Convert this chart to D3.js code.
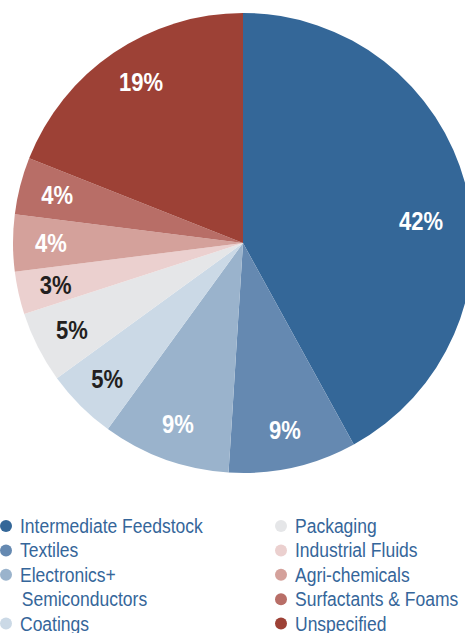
<!DOCTYPE html>
<html>
<head>
<meta charset="utf-8">
<script src="https://cdn.jsdelivr.net/npm/d3@7"></script>
<style>
  body { margin: 0; background: #fff; }
  svg { display: block; }
</style>
</head>
<body>
<div id="chart"></div>
<script>
/* data */
var categories = ["Intermediate Feedstock", "Textiles", "Electronics+\nSemiconductors", "Coatings",
  "Packaging", "Industrial Fluids", "Agri-chemicals", "Surfactants & Foams", "Unspecified"];
var shares = [42, 9, 9, 5, 5, 3, 4, 4, 19];
var colors = ["#346798", "#6589b1", "#9ab3cc", "#cbd9e6", "#e5e6e8", "#ebd0cf", "#d4a19b", "#b86e67", "#9d4136"];
var labelColors = ["#fff", "#fff", "#fff", "#231f20", "#231f20", "#231f20", "#fff", "#fff", "#fff"];

var width = 465, height = 633;
var cx = 243, cy = 243, radius = 230;
var fontFam = "'Liberation Sans Narrow', 'Liberation Sans', Arial, sans-serif";

var svg = d3.select("#chart").append("svg")
  .attr("width", width)
  .attr("height", height);

var data = categories.map(function(c, i) {
  return { name: c, value: shares[i], color: colors[i], text: labelColors[i] };
});

var pie = d3.pie().sort(null).value(function(d) { return d.value; });
var arc = d3.arc().innerRadius(0).outerRadius(radius);
var labelArc = d3.arc().innerRadius(192).outerRadius(192);

var g = svg.append("g").attr("transform", "translate(" + cx + "," + cy + ")");
var arcs = pie(data);

g.selectAll("path")
  .data(arcs)
  .enter().append("path")
  .attr("d", arc)
  .attr("fill", function(d) { return d.data.color; });

g.selectAll("text.pct")
  .data(arcs)
  .enter().append("text")
  .attr("class", "pct")
  .attr("transform", function(d) {
    var p = labelArc.centroid(d);
    // biggest slice label sits lower in the original
    if (d.index === 0) p = [p[0] - 8, p[1] + 26];
    if (d.index === 8) p = [p[0] + 6, p[1] - 2];
    return "translate(" + p[0] + "," + p[1] + ") scale(0.88,1)";
  })
  .attr("text-anchor", "middle")
  .attr("dy", "0.36em")
  .style("font-family", fontFam)
  .style("font-weight", "bold")
  .style("font-size", "25px")
  .style("fill", function(d) { return d.data.text; })
  .text(function(d) { return d.data.value + "%"; });

/* legend */
var legend = svg.append("g");
var rowH = 24.4, legendTop = 526;
var lineIdx = [0, 0];
data.forEach(function(d, i) {
  var col = i < 4 ? 0 : 1;
  var x = col === 0 ? 6 : 281;
  var y = legendTop + lineIdx[col] * rowH;
  var lines = d.name.split("\n");
  legend.append("circle")
    .attr("cx", x).attr("cy", y).attr("r", 6)
    .attr("fill", d.color);
  var t = legend.append("text")
    .attr("transform", "translate(" + (x + 14) + "," + y + ") scale(0.875,1)")
    .style("font-family", fontFam)
    .style("font-size", "20px")
    .style("fill", "#35669a");
  lines.forEach(function(l, k) {
    t.append("tspan")
      .attr("x", k === 0 ? 0 : 2)
      .attr("y", k * rowH)
      .attr("dy", "0.35em")
      .text(l);
  });
  lineIdx[col] += lines.length;
});
</script>
</body>
</html>
